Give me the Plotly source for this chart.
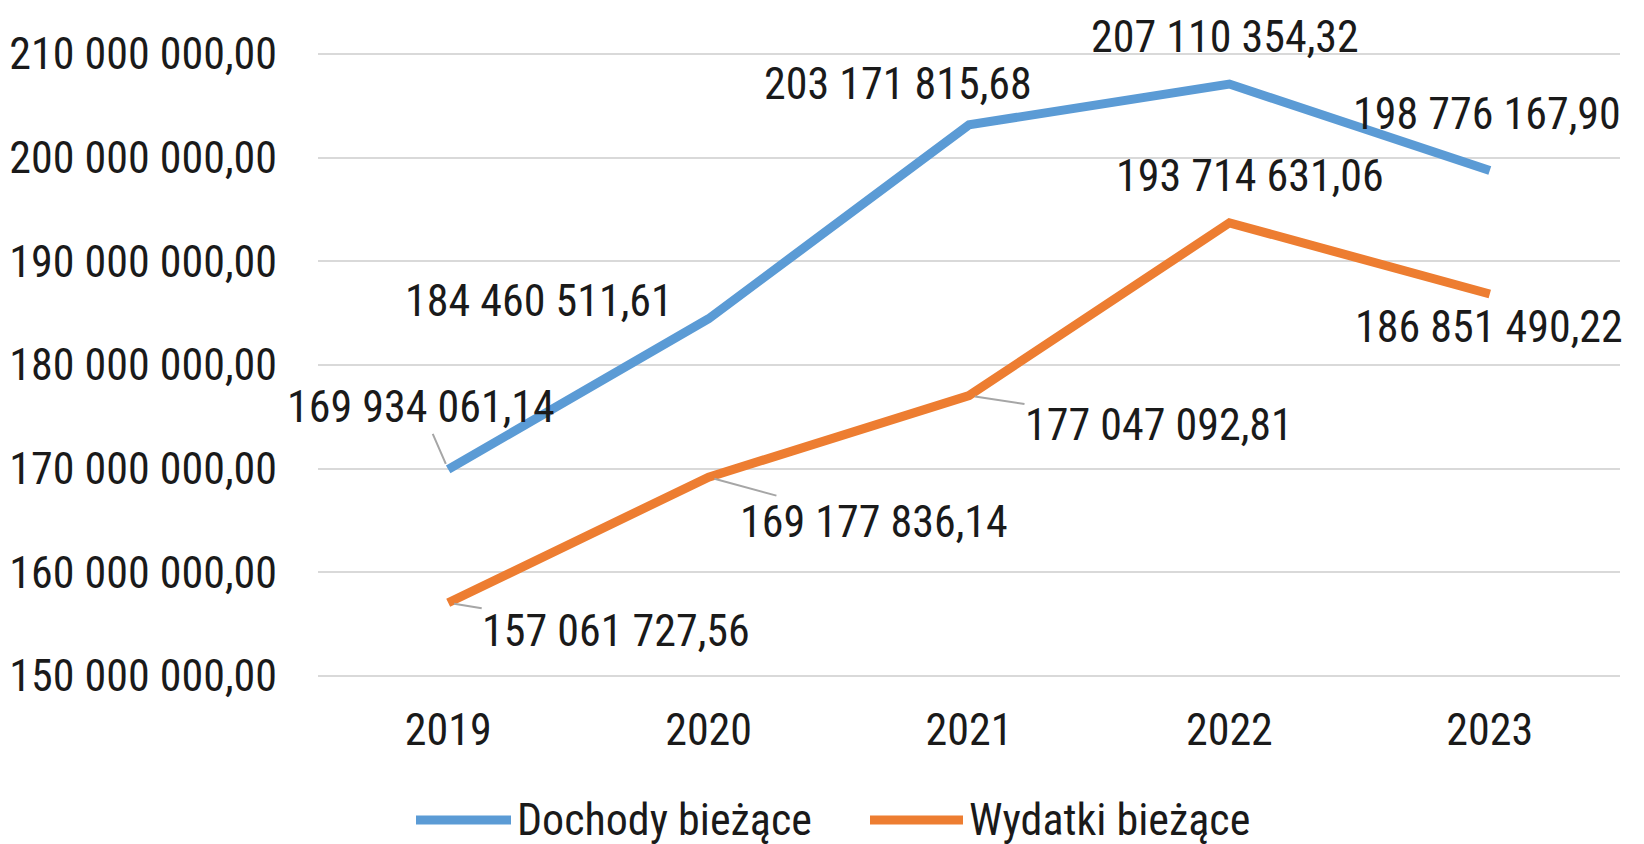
import plotly.graph_objects as go

years = ["2019", "2020", "2021", "2022", "2023"]
dochody = [169934061.14, 184460511.61, 203171815.68, 207110354.32, 198776167.90]
wydatki = [157061727.56, 169177836.14, 177047092.81, 193714631.06, 186851490.22]
dochody_labels = ["169 934 061,14", "184 460 511,61", "203 171 815,68", "207 110 354,32", "198 776 167,90"]
wydatki_labels = ["157 061 727,56", "169 177 836,14", "177 047 092,81", "193 714 631,06", "186 851 490,22"]
y_ticks = [150e6, 160e6, 170e6, 180e6, 190e6, 200e6, 210e6]
y_tick_text = ["150 000 000,00", "160 000 000,00", "170 000 000,00", "180 000 000,00",
               "190 000 000,00", "200 000 000,00", "210 000 000,00"]
series_names = ["Dochody bieżące", "Wydatki bieżące"]

BLUE = "#5B9BD5"
ORANGE = "#ED7D31"
FONT = "Liberation Sans Narrow, Roboto Condensed, DejaVu Sans Condensed, sans-serif"
FS = 44
TXT = "#1a1a1a"

W, H = 1644, 844
OFF = 8  # page body margin compensation
plot_left, plot_right = 318 - OFF, 1620 - OFF
plot_top, plot_bottom = 52 - OFF, 678 - OFF
L, R, T, B = plot_left, W - plot_right, plot_top, H - plot_bottom

fig = go.Figure()
fig.add_trace(go.Scatter(x=years, y=dochody, mode="lines", name=series_names[0],
                         line=dict(color=BLUE, width=9), showlegend=False, cliponaxis=False))
fig.add_trace(go.Scatter(x=years, y=wydatki, mode="lines", name=series_names[1],
                         line=dict(color=ORANGE, width=9), showlegend=False, cliponaxis=False))

# label offsets (pixels) and whether a leader line is shown
d_off = [(-27, -62, True), (-170, -18, False), (-71, -41, False), (-4, -47, False), (-3, -56, False)]
w_off = [(168, 28, True), (165, 45, True), (190, 29, True), (21, -47, False), (-1, 33, False)]

for vals, labels, offs in [(dochody, dochody_labels, d_off), (wydatki, wydatki_labels, w_off)]:
    for i, (yv, lab, (ax, ay, lead)) in enumerate(zip(vals, labels, offs)):
        fig.add_annotation(x=i, y=yv, xref="x", yref="y", text=lab, showarrow=True,
                           ax=ax, ay=ay, borderpad=0,
                           arrowhead=0, arrowwidth=2,
                           arrowcolor="#A6A6A6" if lead else "rgba(255,255,255,0)",
                           standoff=6,
                           font=dict(family=FONT, size=FS, color=TXT))

# manual legend (wide line symbols)
pw = plot_right - plot_left
ph = plot_bottom - plot_top
def px(xp):
    return (xp - OFF - plot_left) / pw
def py(yp):
    return (plot_bottom - (yp - OFF)) / ph

leg = [(416, 511, 516, BLUE, series_names[0]), (870, 963, 968, ORANGE, series_names[1])]
for x0, x1, xt, col, name in leg:
    fig.add_shape(type="line", xref="paper", yref="paper", x0=px(x0), x1=px(x1),
                  y0=py(820), y1=py(820), line=dict(color=col, width=9))
    fig.add_annotation(xref="paper", yref="paper", x=px(xt), y=py(820), text=name,
                       showarrow=False, xanchor="left", yanchor="middle", borderpad=0,
                       font=dict(family=FONT, size=FS, color=TXT))

fig.update_layout(
    width=W, height=H,
    margin=dict(l=L, r=R, t=T, b=B, autoexpand=False),
    paper_bgcolor="white", plot_bgcolor="white",
    font=dict(family=FONT, size=FS, color=TXT),
    xaxis=dict(type="category", showgrid=False, showline=False, zeroline=False,
               automargin=False,
               ticks="", ticklabelstandoff=22, tickfont=dict(family=FONT, size=FS, color=TXT),
               range=[-0.5, 4.5]),
    yaxis=dict(range=[149.8e6, 210.2e6], tickvals=y_ticks, ticktext=y_tick_text,
               automargin=False,
               showgrid=True, gridcolor="#D9D9D9", gridwidth=2, zeroline=False,
               showline=False, ticks="", ticklabelstandoff=40,
               tickfont=dict(family=FONT, size=FS, color=TXT)),
)

fig.write_html("out.html")
